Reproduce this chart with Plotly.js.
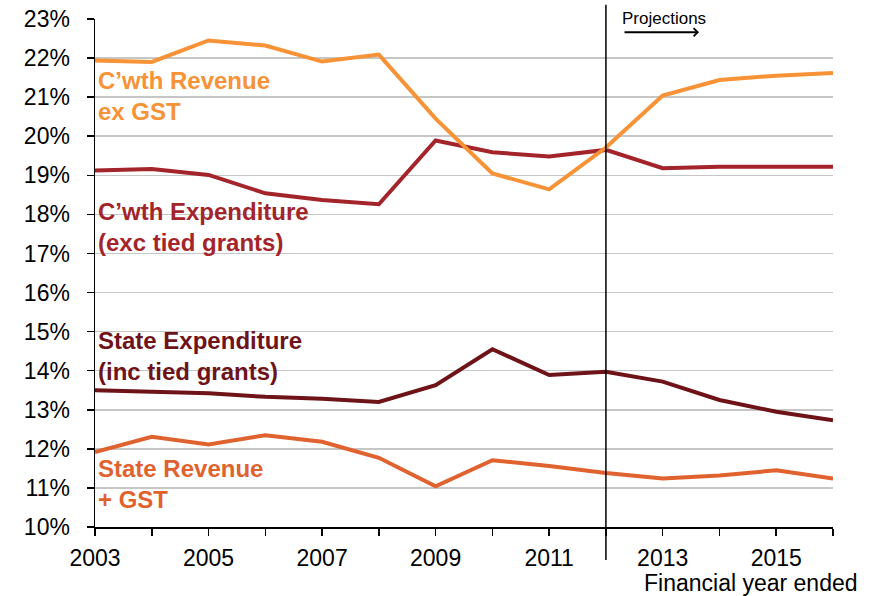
<!DOCTYPE html>
<html>
<head>
<meta charset="utf-8">
<script src="https://cdn.plot.ly/plotly-3.0.1.min.js"></script>
<style>
  html, body { margin: 0; padding: 0; background: #fff; }
  #chart { width: 877px; height: 596px; }
</style>
</head>
<body>
<div id="chart"></div>
<script>
// financial years (year ended)
const years = [2003, 2004, 2005, 2006, 2007, 2008, 2009, 2010, 2011, 2012, 2013, 2014, 2015, 2016];

// % of GDP
const cwthRevenue = [21.94, 21.90, 22.45, 22.32, 21.91, 22.09, 20.45, 19.05, 18.64, 19.71, 21.04, 21.44, 21.55, 21.62];
const cwthExpenditure = [19.12, 19.16, 19.01, 18.54, 18.37, 18.26, 19.89, 19.59, 19.48, 19.65, 19.18, 19.22, 19.22, 19.22];
const stateExpenditure = [13.50, 13.46, 13.42, 13.33, 13.28, 13.20, 13.63, 14.55, 13.89, 13.97, 13.72, 13.25, 12.95, 12.73];
const stateRevenue = [11.92, 12.31, 12.11, 12.35, 12.18, 11.77, 11.04, 11.71, 11.56, 11.38, 11.24, 11.32, 11.45, 11.24];

const yTicks = [10, 11, 12, 13, 14, 15, 16, 17, 18, 19, 20, 21, 22, 23];
const xTickText = years.map((y, i) => (i % 2 === 0 ? String(y) : ""));

const projectionStart = 2012;

const font = "Liberation Sans, Arial, sans-serif";

function line(y, name, color) {
    return {
        x: years,
        y: y,
        mode: "lines",
        name: name,
        line: { color: color, width: 4 },
        hoverinfo: "skip",
    };
}

const traces = [
    line(stateRevenue, "State Revenue + GST", "#E0622E"),
    line(stateExpenditure, "State Expenditure", "#6E1419"),
    line(cwthExpenditure, "C'wth Expenditure", "#A3242B"),
    line(cwthRevenue, "C'wth Revenue ex GST", "#F79236"),
];

function label(text, y, color) {
    return {
        x: 2003, y: y, xref: "x", yref: "y",
        xanchor: "left", yanchor: "middle", xshift: 1,
        text: "<b>" + text + "</b>", align: "left",
        showarrow: false,
        font: { family: font, size: 24, color: color },
    };
}

const layout = {
    width: 877,
    height: 596,
    margin: { l: 95, r: 44, t: 19, b: 69 },
    paper_bgcolor: "#fff",
    plot_bgcolor: "#fff",
    showlegend: false,
    font: { family: font, size: 23, color: "#000" },
    xaxis: {
        range: [2003, 2016],
        tickvals: years,
        ticktext: xTickText,
        ticks: "outside",
        ticklen: 7,
        tickwidth: 1.5,
        tickcolor: "#000",
        ticklabelstandoff: 3,
        showline: true,
        linecolor: "#000",
        linewidth: 1.5,
        showgrid: false,
        zeroline: false,
        fixedrange: true,
    },
    yaxis: {
        range: [10, 23],
        tickvals: yTicks,
        ticktext: yTicks.map(v => v + "%"),
        ticks: "outside",
        ticklen: 7,
        tickwidth: 1.5,
        tickcolor: "#000",
        ticklabelstandoff: 12,
        showline: true,
        linecolor: "#000",
        linewidth: 1.5,
        showgrid: true,
        gridcolor: "#C6C6C6",
        gridwidth: 1.5,
        zeroline: false,
        fixedrange: true,
    },
    shapes: [
        {
            type: "line", xref: "x", yref: "paper",
            x0: projectionStart, x1: projectionStart, y0: -0.065, y1: 1.028,
            line: { color: "#000", width: 1.5 },
        },
    ],
    annotations: [
        label("C’wth Revenue<br>ex GST", 21.03, "#F79236"),
        label("C’wth Expenditure<br>(exc tied grants)", 17.67, "#A3242B"),
        label("State Expenditure<br>(inc tied grants)", 14.37, "#6E1419"),
        label("State Revenue<br>+ GST", 11.09, "#E0622E"),
        {
            x: 2013.02, y: 1.001, xref: "x", yref: "paper",
            text: "Projections", showarrow: false,
            xanchor: "center", yanchor: "middle",
            font: { family: font, size: 17, color: "#000" },
        },
        {
            x: 2013.64, y: 0.974, xref: "x", yref: "paper",
            ax: -76, ay: 0, axref: "pixel", ayref: "pixel",
            text: "", showarrow: true,
            arrowhead: 4, arrowsize: 0.8, arrowwidth: 2, arrowcolor: "#000",
        },
        {
            x: 1.036, y: -0.11, xref: "paper", yref: "paper",
            text: "Financial year ended", showarrow: false,
            xanchor: "right", yanchor: "middle",
            font: { family: font, size: 23, color: "#000" },
        },
    ],
};

Plotly.newPlot("chart", traces, layout, { displayModeBar: false, staticPlot: true });
</script>
</body>
</html>
